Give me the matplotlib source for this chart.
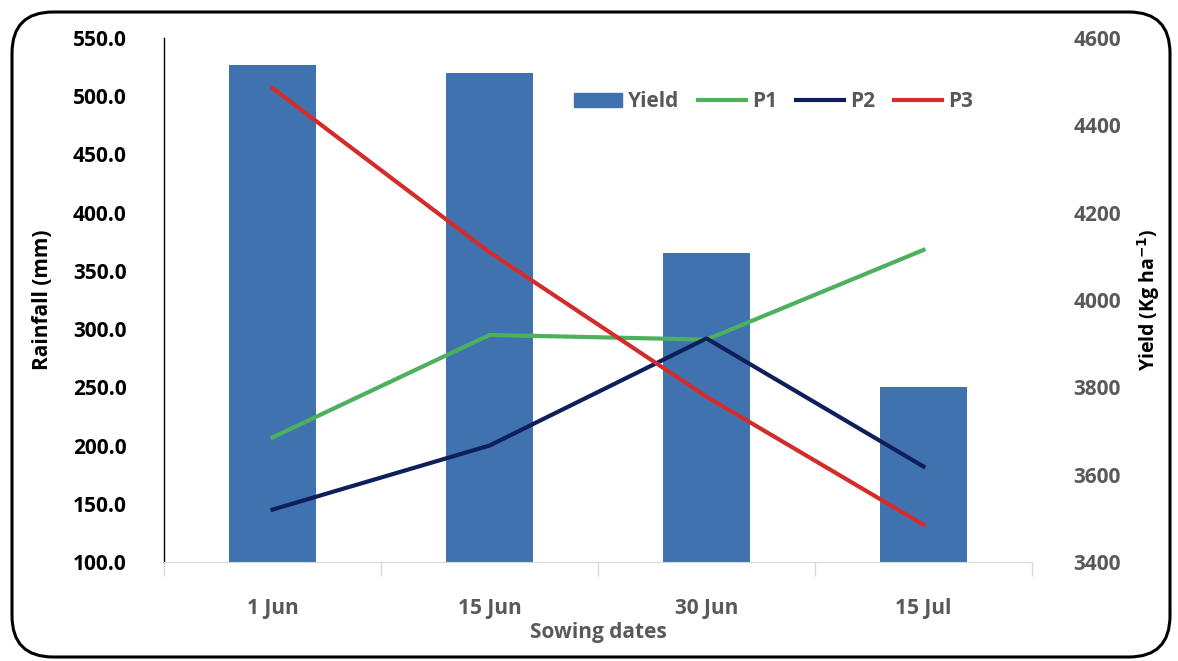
import numpy as np
import matplotlib
matplotlib.use('Agg')
import matplotlib.pyplot as plt
from matplotlib.patches import FancyBboxPatch, Patch
from matplotlib.lines import Line2D

# DATA
dates = ['1 Jun', '15 Jun', '30 Jun', '15 Jul']
yield_kg = [4538, 4520, 4108, 3801]
p1 = [207, 295, 291, 368]
p2 = [145, 200, 292, 182]
p3 = [507, 366, 242, 132]

# COLOURS
BAR_C = '#3F72AF'
P1_C = '#4CB05C'
P2_C = '#0E1F5B'
P3_C = '#D42B2B'
GRAY = '#595959'

plt.rcParams['font.family'] = ['Open Sans', 'DejaVu Sans']
plt.rcParams['font.weight'] = 'bold'
FS = 15

fig = plt.figure(figsize=(11.78, 6.61), dpi=100)

# rounded frame round the chart
frame = FancyBboxPatch((12 / 1178, 4 / 661), 1158 / 1178, 645 / 661,
                       boxstyle='round,pad=0,rounding_size=0.035',
                       transform=fig.transFigure, fill=False,
                       edgecolor='black', linewidth=2.2, mutation_aspect=1178 / 661)
fig.patches.append(frame)

ax = fig.add_axes([164 / 1178, 1 - 562 / 661, 868 / 1178, 524 / 661])
ax2 = ax.twinx()

x = np.arange(len(dates))
ax2.bar(x, yield_kg, width=0.405, color=BAR_C, zorder=2)
ax2.set_ylim(3400, 4600)
ax2.set_yticks(np.arange(3400, 4601, 200))
ax2.tick_params(axis='y', length=0, pad=30, labelsize=FS, labelcolor=GRAY)
ax2.set_ylabel('Yield (Kg ha$^{\\mathbf{-1}}$)', fontsize=14, fontweight='bold',
               color='black', labelpad=10)

ax.set_zorder(ax2.get_zorder() + 1)
ax.patch.set_visible(False)
ax.plot(x, p1, color=P1_C, lw=3)
ax.plot(x, p2, color=P2_C, lw=3)
ax.plot(x, p3, color=P3_C, lw=3)
ax.set_ylim(100, 550)
ax.set_yticks(np.arange(100, 551, 50))
ax.set_yticklabels(['%.1f' % v for v in np.arange(100, 551, 50)])
ax.tick_params(axis='y', length=0, pad=27, labelsize=FS, labelcolor='black')
ax.set_xlim(-0.5, 3.5)
ax.set_xticks(x)
ax.set_xticklabels(dates)
ax.set_xticks(np.arange(-0.5, 3.6, 1), minor=True)
ax.tick_params(axis='x', which='major', length=0, pad=26, labelsize=FS, labelcolor=GRAY)
ax.tick_params(axis='x', which='minor', length=10, color='#D9D9D9', width=1)
ax.set_ylabel('Rainfall (mm)', fontsize=FS, fontweight='bold', labelpad=14)
ax.set_xlabel('Sowing dates', fontsize=FS, fontweight='bold', color=GRAY, labelpad=2)

for lab in ax.get_yticklabels() + ax.get_xticklabels() + ax2.get_yticklabels():
    lab.set_fontweight('bold')

for a in (ax, ax2):
    for s in a.spines.values():
        s.set_visible(False)
ax.spines['left'].set_visible(True)
ax.spines['left'].set_linewidth(1)
ax.spines['bottom'].set_visible(True)
ax.spines['bottom'].set_color('#D9D9D9')

handles = [Patch(color=BAR_C), Line2D([], [], color=P1_C, lw=3),
           Line2D([], [], color=P2_C, lw=3), Line2D([], [], color=P3_C, lw=3)]
leg = ax.legend(handles, ['Yield', 'P1', 'P2', 'P3'], ncol=4, frameon=False,
                loc='center', bbox_to_anchor=(0.702, 0.878),
                prop={'size': FS, 'weight': 'bold'},
                handlelength=2.3, handletextpad=0.3, columnspacing=0.9)
for t in leg.get_texts():
    t.set_color(GRAY)

fig.savefig('out.png', dpi=100)
